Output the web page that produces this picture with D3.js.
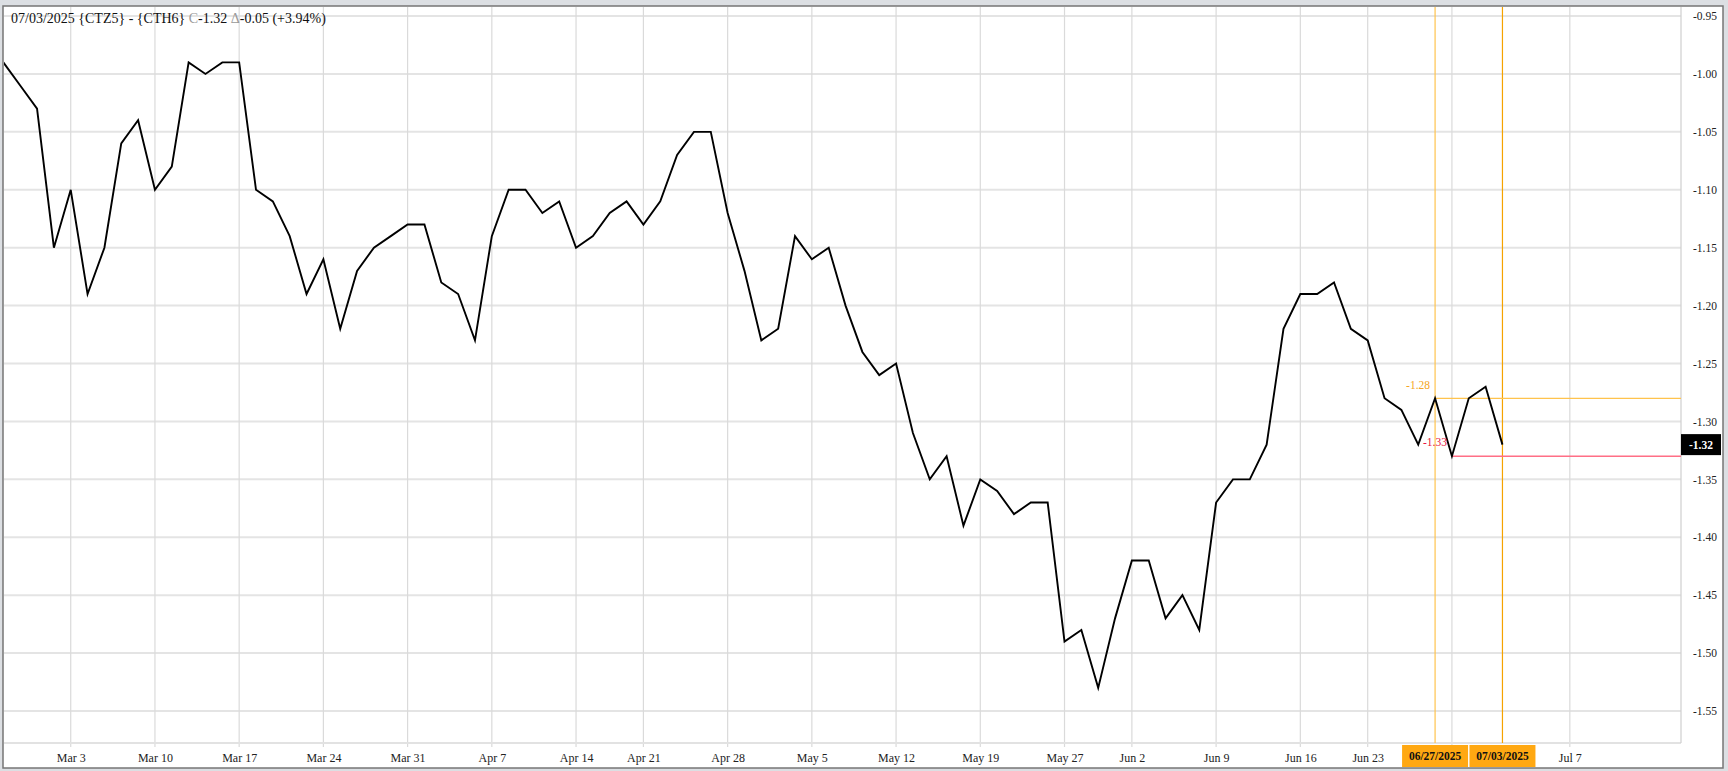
<!DOCTYPE html>
<html lang="en">
<head>
<meta charset="UTF-8">
<title>CTZ5 - CTH6</title>
<script src="https://cdn.jsdelivr.net/npm/d3@7/dist/d3.min.js"></script>
<style>
  html, body { margin: 0; padding: 0; background: #dcdfe3; }
  svg { display: block; font-family: "Liberation Serif", "DejaVu Serif", serif; }
</style>
</head>
<body>
<div id="root"></div>
<script>
// trading days shown on the chart
var dates = [
  "2025-02-25","2025-02-26","2025-02-27","2025-02-28",
  "2025-03-03","2025-03-04","2025-03-05","2025-03-06","2025-03-07",
  "2025-03-10","2025-03-11","2025-03-12","2025-03-13","2025-03-14",
  "2025-03-17","2025-03-18","2025-03-19","2025-03-20","2025-03-21",
  "2025-03-24","2025-03-25","2025-03-26","2025-03-27","2025-03-28",
  "2025-03-31","2025-04-01","2025-04-02","2025-04-03","2025-04-04",
  "2025-04-07","2025-04-08","2025-04-09","2025-04-10","2025-04-11",
  "2025-04-14","2025-04-15","2025-04-16","2025-04-17",
  "2025-04-21","2025-04-22","2025-04-23","2025-04-24","2025-04-25",
  "2025-04-28","2025-04-29","2025-04-30","2025-05-01","2025-05-02",
  "2025-05-05","2025-05-06","2025-05-07","2025-05-08","2025-05-09",
  "2025-05-12","2025-05-13","2025-05-14","2025-05-15","2025-05-16",
  "2025-05-19","2025-05-20","2025-05-21","2025-05-22","2025-05-23",
  "2025-05-27","2025-05-28","2025-05-29","2025-05-30",
  "2025-06-02","2025-06-03","2025-06-04","2025-06-05","2025-06-06",
  "2025-06-09","2025-06-10","2025-06-11","2025-06-12","2025-06-13",
  "2025-06-16","2025-06-17","2025-06-18","2025-06-20",
  "2025-06-23","2025-06-24","2025-06-25","2025-06-26","2025-06-27",
  "2025-06-30","2025-07-01","2025-07-02","2025-07-03"
]

// spread close (CTZ5 - CTH6)
var spread = [
  -0.99, -1.01, -1.03, -1.15,
  -1.10, -1.19, -1.15, -1.06, -1.04,
  -1.10, -1.08, -0.99, -1.00, -0.99,
  -0.99, -1.10, -1.11, -1.14, -1.19,
  -1.16, -1.22, -1.17, -1.15, -1.14,
  -1.13, -1.13, -1.18, -1.19, -1.23,
  -1.14, -1.10, -1.10, -1.12, -1.11,
  -1.15, -1.14, -1.12, -1.11,
  -1.13, -1.11, -1.07, -1.05, -1.05,
  -1.12, -1.17, -1.23, -1.22, -1.14,
  -1.16, -1.15, -1.20, -1.24, -1.26,
  -1.25, -1.31, -1.35, -1.33, -1.39,
  -1.35, -1.36, -1.38, -1.37, -1.37,
  -1.49, -1.48, -1.53, -1.47,
  -1.42, -1.42, -1.47, -1.45, -1.48,
  -1.37, -1.35, -1.35, -1.32, -1.22,
  -1.19, -1.19, -1.18, -1.22,
  -1.23, -1.28, -1.29, -1.32, -1.28,
  -1.33, -1.28, -1.27, -1.32
]

// weekly grid; the Jun 30 line has no label (the date boxes sit there)
var xTickDates  = ["2025-03-03","2025-03-10","2025-03-17","2025-03-24","2025-03-31","2025-04-07","2025-04-14",
                   "2025-04-21","2025-04-28","2025-05-05","2025-05-12","2025-05-19","2025-05-27","2025-06-02",
                   "2025-06-09","2025-06-16","2025-06-23","2025-06-30","2025-07-07"]
var xTickLabels = ["Mar 3","Mar 10","Mar 17","Mar 24","Mar 31","Apr 7","Apr 14",
                   "Apr 21","Apr 28","May 5","May 12","May 19","May 27","Jun 2",
                   "Jun 9","Jun 16","Jun 23","","Jul 7"]
var yTicks = [-0.95, -1.00, -1.05, -1.10, -1.15, -1.20, -1.25, -1.30, -1.35, -1.40, -1.45, -1.50, -1.55]

var markerDates = ["2025-06-27", "2025-07-03"]
var markerLabels = ["06/27/2025", "07/03/2025"]
var highLevel = -1.28
var lowLevel = -1.33
var lowDate = "2025-06-30"
var lastValue = -1.32

var width = 1728
var height = 771
var plot = { left: 4, right: 1681, top: 7, bottom: 743 }

// index along the trading-day axis; dates after the data run on calendar days
function dateIndex(s) {
    var i = dates.indexOf(s)
    if (i >= 0) return i
    var last = new Date(dates[dates.length - 1])
    var days = Math.round((new Date(s) - last) / 86400000)
    return dates.length - 1 + days
}

var x = d3.scaleLinear()
          .domain([0, 99.6])
          .range([3.35, plot.right])

var y = d3.scaleLinear()
          .domain([-0.9422, -1.5776])
          .range([plot.top, plot.bottom])

var svg = d3.select('#root')
            .append('svg')
            .attr('width', width)
            .attr('height', height)

// frame
svg.append('rect')
   .attr('x', 3).attr('y', 6)
   .attr('width', 1720).attr('height', 762)
   .attr('fill', '#fff')
   .attr('stroke', '#767676')
   .attr('stroke-width', 1.5)

svg.append('clipPath').attr('id', 'clip')
   .append('rect')
   .attr('x', plot.left).attr('y', plot.top)
   .attr('width', plot.right - plot.left).attr('height', plot.bottom - plot.top)

// horizontal grid
svg.append('g')
   .selectAll('line')
   .data(yTicks)
   .enter()
   .append('line')
      .attr('x1', plot.left).attr('x2', plot.right)
      .attr('y1', function(d) { return y(d) })
      .attr('y2', function(d) { return y(d) })
      .attr('stroke', '#e4e4e4')
      .attr('stroke-width', 2)

// vertical grid
svg.append('g')
   .selectAll('line')
   .data(xTickDates)
   .enter()
   .append('line')
      .attr('x1', function(d) { return x(dateIndex(d)) })
      .attr('x2', function(d) { return x(dateIndex(d)) })
      .attr('y1', plot.top).attr('y2', plot.bottom + 4)
      .attr('stroke', '#dadada')
      .attr('stroke-width', 1.2)

// plot borders
svg.append('line')
   .attr('x1', plot.left).attr('x2', plot.right)
   .attr('y1', plot.bottom).attr('y2', plot.bottom)
   .attr('stroke', '#e2e2e2').attr('stroke-width', 2)
svg.append('line')
   .attr('x1', plot.right).attr('x2', plot.right)
   .attr('y1', plot.top).attr('y2', plot.bottom)
   .attr('stroke', '#cfcfcf').attr('stroke-width', 1.2)

// y axis labels
var yAxis = d3.axisRight(y)
              .tickValues(yTicks)
              .tickSize(0)
              .tickPadding(12)
              .tickFormat(function(d) { return d.toFixed(2) })
var yg = svg.append('g')
            .attr('transform', 'translate(' + plot.right + ',0)')
            .call(yAxis)
yg.select('.domain').remove()
yg.selectAll('text')
  .attr('font-family', '"Liberation Serif", serif')
  .attr('font-size', 11.5)
  .attr('fill', '#222')

// x axis labels
var xAxis = d3.axisBottom(x)
              .tickValues(xTickDates.map(dateIndex))
              .tickSize(0)
              .tickPadding(10)
              .tickFormat(function(d, i) { return xTickLabels[i] })
var xg = svg.append('g')
            .attr('transform', 'translate(0,' + plot.bottom + ')')
            .call(xAxis)
xg.select('.domain').remove()
xg.selectAll('text')
  .attr('font-family', '"Liberation Serif", serif')
  .attr('font-size', 12)
  .attr('fill', '#222')
xg.selectAll('.tick')
  .filter(function(d, i) { return xTickLabels[i] === '' })
  .select('text').remove()

// marker lines
var hiIdx = dateIndex(markerDates[0])
var lastIdx = dateIndex(markerDates[1])
var lowIdx = dateIndex(lowDate)

svg.append('line')
   .attr('x1', x(hiIdx)).attr('x2', x(hiIdx))
   .attr('y1', plot.top).attr('y2', plot.bottom)
   .attr('stroke', '#ffc34d').attr('stroke-width', 1.2)
svg.append('line')
   .attr('x1', x(lastIdx)).attr('x2', x(lastIdx))
   .attr('y1', plot.top).attr('y2', plot.bottom)
   .attr('stroke', '#f5a300').attr('stroke-width', 1.2)

svg.append('line')
   .attr('x1', x(hiIdx)).attr('x2', plot.right)
   .attr('y1', y(highLevel)).attr('y2', y(highLevel))
   .attr('stroke', '#ffc34d').attr('stroke-width', 1.2)
svg.append('line')
   .attr('x1', x(lowIdx)).attr('x2', plot.right)
   .attr('y1', y(lowLevel)).attr('y2', y(lowLevel))
   .attr('stroke', '#ff6f86').attr('stroke-width', 1.4)

// price line
var line = d3.line()
             .x(function(d, i) { return x(i) })
             .y(function(d) { return y(d) })

svg.append('path')
   .datum(spread)
   .attr('clip-path', 'url(#clip)')
   .attr('d', line)
   .attr('fill', 'none')
   .attr('stroke', '#000')
   .attr('stroke-width', 1.9)
   .attr('stroke-linejoin', 'miter')

// high / low labels
svg.append('text')
   .attr('x', x(hiIdx) - 5).attr('y', y(highLevel) - 9)
   .attr('text-anchor', 'end')
   .attr('font-size', 11.5)
   .attr('fill', '#f5a623')
   .text(highLevel.toFixed(2))
svg.append('text')
   .attr('x', x(lowIdx) - 29).attr('y', y(lowLevel) - 10)
   .attr('font-size', 11.5)
   .attr('fill', '#e8173c')
   .text(lowLevel.toFixed(2))

// last value box on the axis
svg.append('rect')
   .attr('x', plot.right).attr('y', y(lastValue) - 10.5)
   .attr('width', 40).attr('height', 21)
   .attr('fill', '#000')
svg.append('text')
   .attr('x', plot.right + 20).attr('y', y(lastValue) + 4)
   .attr('text-anchor', 'middle')
   .attr('font-size', 11.5)
   .attr('font-weight', 'bold')
   .attr('fill', '#fff')
   .text(lastValue.toFixed(2))

// date boxes under the marker lines
var boxes = svg.append('g')
               .selectAll('g')
               .data(markerDates)
               .enter()
               .append('g')
                  .attr('transform', function(d) { return 'translate(' + x(dateIndex(d)) + ',' + (plot.bottom + 2) + ')' })
boxes.append('rect')
     .attr('x', -33).attr('y', 0)
     .attr('width', 66).attr('height', 22)
     .attr('fill', '#ffa812')
boxes.append('text')
     .attr('y', 15)
     .attr('text-anchor', 'middle')
     .attr('font-size', 11.5)
     .attr('font-weight', 'bold')
     .attr('fill', '#111')
     .text(function(d, i) { return markerLabels[i] })

// header
var head = svg.append('text')
              .attr('x', 11).attr('y', 23)
              .attr('font-size', 14)
              .attr('fill', '#111')
head.append('tspan').text('07/03/2025 {CTZ5} - {CTH6} ')
head.append('tspan').attr('fill', '#999').text('C')
head.append('tspan').text(lastValue.toFixed(2) + ' ')
head.append('tspan').attr('fill', '#999').text('\u0394')
head.append('tspan').text('-0.05 (+3.94%)')
</script>
</body>
</html>
